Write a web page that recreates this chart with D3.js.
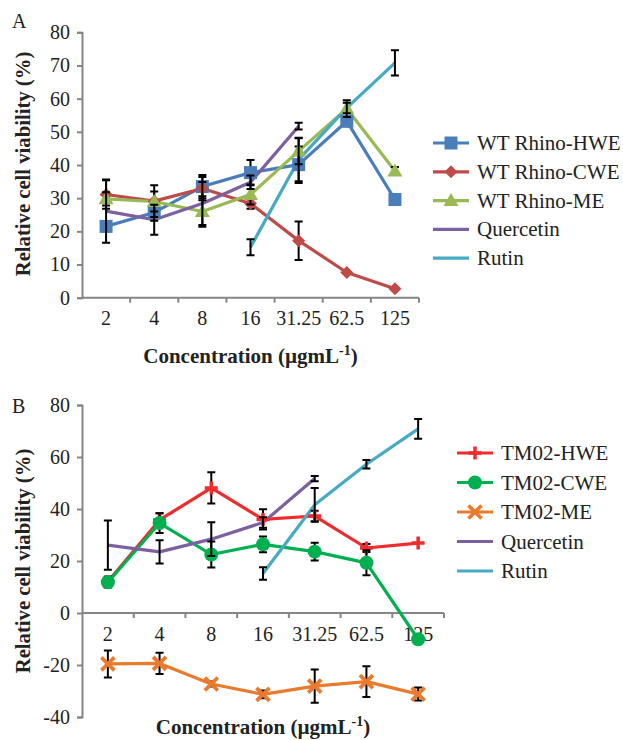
<!DOCTYPE html>
<html><head><meta charset="utf-8">
<script src="https://cdn.jsdelivr.net/npm/d3@7/dist/d3.min.js"></script>
<style>
body{margin:0;background:#fff;}
svg text{font-family:"Liberation Serif","Times New Roman","DejaVu Serif",serif !important;}
</style></head><body>
<div id="chart"></div>
<script>
const categories = ["2","4","8","16","31.25","62.5","125"];

// Panel A
const wtHWE = [21.5, 25.7, 33.5, 37.7, 40.1, 53.2, 29.6];
const wtHWEErr = [1.5, 2.5, 3.5, 3.8, 5.5, 1.5, 0];
const wtCWE = [31.1, 29.1, 32.9, 28.4, 17.2, 7.6, 2.7];
const wtCWEErr = [4.3, 4.8, 3.5, 1.6, 5.8, 0, 0];
const wtME = [29.8, 29.0, 26.0, 31.1, 44.2, 57.0, 38.2];
const wtMEErr = [2, 3, 4.6, 3, 4, 2.5, 1.2];

// Panel B
const tmHWE = [12.0, 35.8, 48.1, 36.0, 37.3, 25.0, 26.9];
const tmHWEErr = [2, 2.6, 6, 3.9, 2, 1.5, 0];
const tmCWE = [11.8, 34.6, 22.5, 26.4, 23.6, 19.3, -10.1];
const tmCWEErr = [2, 3.8, 5, 3, 3.4, 4.8, 1.5];
const tmME = [-19.6, -19.4, -27.3, -31.3, -28.1, -26.4, -31.2];
const tmMEErr = [5.2, 4.1, 1, 1.5, 6.4, 5.9, 2.5];

// Standards (shared)
const quercetin = [26.1, 23.5, 28.4, 34.8, 51.7, null, null];
const quercetinErr = [9.5, 4.5, 6.5, 2, 1, 0, 0];
const rutin = [null, null, null, 15.2, 41.6, 57.2, 70.8];
const rutinErr = [0, 0, 0, 2.4, 6.5, 1.6, 3.8];

const yTicksA = [0,10,20,30,40,50,60,70,80];
const yTicksB = [-40,-20,0,20,40,60,80];

const W = 623, H = 740;
const FONT = "Liberation Serif, Times New Roman, DejaVu Serif, serif";
const svg = d3.select("#chart").append("svg").attr("width", W).attr("height", H)
  .attr("font-family", FONT);
const axisColor = "#868686", textColor = "#222";

function marker(g, type, color, x, y) {
  if (type === "square") {
    g.append("rect").attr("x", x-6.5).attr("y", y-6.5).attr("width", 13).attr("height", 13).attr("fill", color);
  } else if (type === "diamond") {
    g.append("path").attr("d", `M${x},${y-6.5}L${x+6.5},${y}L${x},${y+6.5}L${x-6.5},${y}Z`).attr("fill", color);
  } else if (type === "triangle") {
    g.append("path").attr("d", `M${x},${y-7.5}L${x+7.5},${y+5.5}L${x-7.5},${y+5.5}Z`).attr("fill", color);
  } else if (type === "circle") {
    g.append("circle").attr("cx", x).attr("cy", y).attr("r", 7).attr("fill", color);
  } else if (type === "plus") {
    g.append("path").attr("d", `M${x-6.5},${y}L${x+6.5},${y}M${x},${y-6.5}L${x},${y+6.5}`).attr("stroke", color).attr("stroke-width", 3.5);
  } else if (type === "x") {
    g.append("path").attr("d", `M${x-6.5},${y-6.5}L${x+6.5},${y+6.5}M${x+6.5},${y-6.5}L${x-6.5},${y+6.5}`).attr("stroke", color).attr("stroke-width", 3.8);
  }
}

function panel(cfg) {
  const x = d3.scaleBand().domain(categories).range([cfg.x0, cfg.x1]).padding(0);
  const y = d3.scaleLinear().domain(cfg.yDomain).range([cfg.yBottom, cfg.yTop]);
  const g = svg.append("g").attr("font-family", FONT);

  // y axis
  const yAxis = g.append("g").attr("transform", `translate(${cfg.x0},0)`)
    .call(d3.axisLeft(y).tickValues(cfg.yTicks).tickSize(5).tickPadding(7).tickFormat(d => String(d)));
  yAxis.attr("font-family", FONT);
  yAxis.select(".domain").attr("stroke", axisColor).attr("stroke-width", 2);
  yAxis.selectAll(".tick line").attr("stroke", axisColor).attr("stroke-width", 2);
  yAxis.selectAll(".tick text").attr("fill", textColor).attr("font-size", 20).attr("font-family", FONT);

  // x axis line at y = cfg.xAxisAt
  const ya = y(cfg.xAxisAt);
  g.append("line").attr("x1", cfg.x0).attr("x2", cfg.x1).attr("y1", ya).attr("y2", ya)
    .attr("stroke", axisColor).attr("stroke-width", 2);
  const bounds = categories.map(c => x(c)).concat([x(categories[categories.length-1]) + x.bandwidth()]);
  g.selectAll(".xt").data(bounds.slice(1)).enter().append("line")
    .attr("x1", d => d).attr("x2", d => d).attr("y1", ya).attr("y2", ya + 5)
    .attr("stroke", axisColor).attr("stroke-width", 2);
  g.selectAll(".xl").data(categories).enter().append("text")
    .attr("x", d => x(d) + x.bandwidth()/2).attr("y", ya + cfg.tickLabelOffset)
    .attr("text-anchor", "middle").attr("font-size", 20).attr("font-family", FONT).attr("fill", textColor).text(d => d);

  // series
  cfg.series.forEach(s => {
    const pts = categories.map((c, i) => ({c, v: s.values[i], e: s.err[i]}));
    const line = d3.line().defined(d => d.v !== null)
      .x(d => x(d.c) + x.bandwidth()/2).y(d => y(d.v));
    g.append("path").datum(pts).attr("d", line).attr("fill", "none")
      .attr("stroke", s.color).attr("stroke-width", 3.2).attr("stroke-linejoin", "round");
  });
  cfg.series.forEach(s => {
    const pts = categories.map((c, i) => ({c, v: s.values[i], e: s.err[i]}));
    pts.filter(d => d.v !== null && d.e > 0).forEach(d => {
      const cx = x(d.c) + x.bandwidth()/2;
      const y1 = y(d.v + d.e), y2 = y(d.v - d.e);
      g.append("path").attr("d", `M${cx},${y1}L${cx},${y2}M${cx-4},${y1}L${cx+4},${y1}M${cx-4},${y2}L${cx+4},${y2}`)
        .attr("stroke", "#000").attr("stroke-width", 2).attr("fill", "none");
    });
    if (s.marker) {
      pts.filter(d => d.v !== null).forEach(d => marker(g, s.marker, s.color, x(d.c) + x.bandwidth()/2, y(d.v)));
    }
  });

  // legend
  cfg.series.forEach((s, i) => {
    const ly = cfg.legendY + i * cfg.legendStep;
    g.append("line").attr("x1", cfg.legendX).attr("x2", cfg.legendX + 36).attr("y1", ly).attr("y2", ly)
      .attr("stroke", s.color).attr("stroke-width", 3.2);
    if (s.marker) marker(g, s.marker, s.color, cfg.legendX + 18, ly);
    g.append("text").attr("x", cfg.legendX + 44).attr("y", ly + 7).attr("font-size", 21)
      .attr("font-family", FONT).attr("fill", textColor).text(s.name);
  });

  // titles
  g.append("text").attr("transform", `translate(${cfg.yTitleX},${cfg.yTitleY}) rotate(-90)`)
    .attr("text-anchor", "middle").attr("font-size", 20.7).attr("font-weight", "bold").attr("font-family", FONT)
    .attr("fill", textColor).text("Relative cell viability (%)");
  const xt = g.append("text").attr("x", (cfg.x0 + cfg.x1)/2).attr("y", cfg.xTitleY)
    .attr("text-anchor", "middle").attr("font-size", 21).attr("font-weight", "bold").attr("font-family", FONT)
    .attr("fill", textColor);
  xt.append("tspan").text("Concentration (µgmL");
  xt.append("tspan").attr("font-size", 14).attr("dy", -8).text("-1");
  xt.append("tspan").attr("dy", 8).text(")");
  g.append("text").attr("x", 12).attr("y", cfg.labelY).attr("font-size", 20).attr("font-family", FONT)
    .attr("fill", textColor).text(cfg.label);
}

panel({
  label: "A", labelY: 28,
  x0: 82, x1: 419, yTop: 32.3, yBottom: 297.7, yDomain: [0, 80], yTicks: yTicksA, xAxisAt: 0,
  tickLabelOffset: 27, xTitleY: 363, yTitleX: 30, yTitleY: 164,
  legendX: 433, legendY: 143, legendStep: 28.8,
  series: [
    {name: "WT Rhino-HWE", values: wtHWE, err: wtHWEErr, color: "#4a7ebb", marker: "square"},
    {name: "WT Rhino-CWE", values: wtCWE, err: wtCWEErr, color: "#be4b48", marker: "diamond"},
    {name: "WT Rhino-ME", values: wtME, err: wtMEErr, color: "#98b954", marker: "triangle"},
    {name: "Quercetin", values: quercetin, err: quercetinErr, color: "#7d60a0", marker: null},
    {name: "Rutin", values: rutin, err: rutinErr, color: "#46aac5", marker: null}
  ]
});

panel({
  label: "B", labelY: 413,
  x0: 82, x1: 444, yTop: 405, yBottom: 717, yDomain: [-40, 80], yTicks: yTicksB, xAxisAt: 0,
  tickLabelOffset: 28, xTitleY: 734, yTitleX: 30, yTitleY: 561,
  legendX: 457, legendY: 453, legendStep: 29.5,
  series: [
    {name: "TM02-HWE", values: tmHWE, err: tmHWEErr, color: "#ee2c2c", marker: "plus"},
    {name: "TM02-CWE", values: tmCWE, err: tmCWEErr, color: "#00b050", marker: "circle"},
    {name: "TM02-ME", values: tmME, err: tmMEErr, color: "#e87b2e", marker: "x"},
    {name: "Quercetin", values: quercetin, err: quercetinErr, color: "#7d60a0", marker: null},
    {name: "Rutin", values: rutin, err: rutinErr, color: "#46aac5", marker: null}
  ]
});
</script>
</body></html>
